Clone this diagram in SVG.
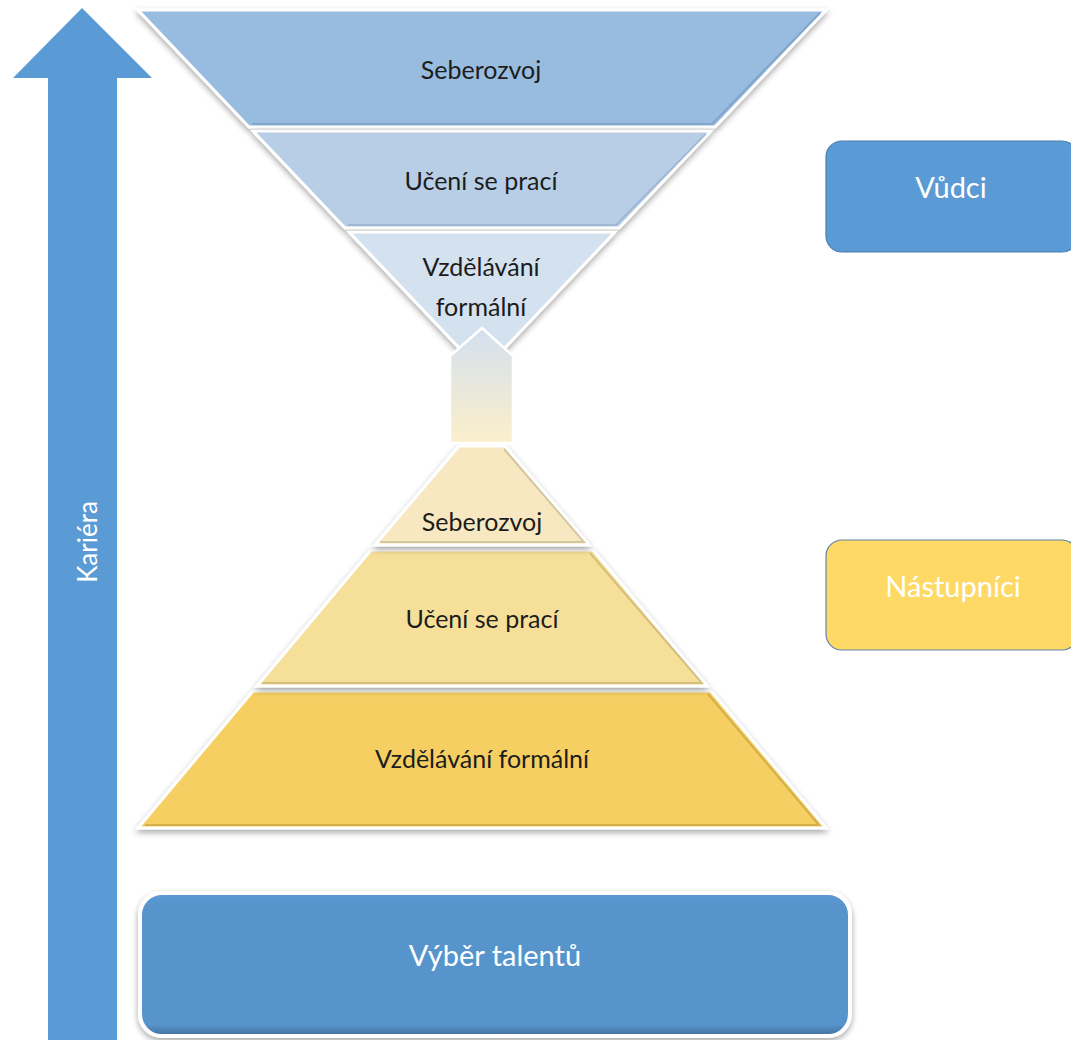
<svg xmlns="http://www.w3.org/2000/svg" width="1071" height="1040" viewBox="0 0 1071 1040">
  <defs>
    <style>
      .lbl { font-family: Lato, "Open Sans", "Liberation Sans", sans-serif; font-size: 25px; fill: #1c1c1c; text-anchor: middle; }
      .wlbl { font-family: Lato, "Open Sans", "Liberation Sans", sans-serif; font-size: 29px; fill: #ffffff; text-anchor: middle; }
      .layer { stroke: #ffffff; stroke-width: 3; stroke-linejoin: miter; filter: url(#shadow); }
      .edge { fill: none; stroke-width: 2; stroke-opacity: 0.55; }
      .side { stroke-width: 1.2; }
    </style>
    <filter id="shadow" x="-10%" y="-10%" width="120%" height="130%">
      <feGaussianBlur in="SourceAlpha" stdDeviation="3"/>
      <feOffset dx="0" dy="3" result="b"/>
      <feComponentTransfer><feFuncA type="linear" slope="0.35"/></feComponentTransfer>
      <feMerge><feMergeNode/><feMergeNode in="SourceGraphic"/></feMerge>
    </filter>
    <linearGradient id="linkGrad" x1="0" y1="0" x2="0" y2="1">
      <stop offset="0" stop-color="#d3e0ef"/>
      <stop offset="1" stop-color="#fcefcb"/>
    </linearGradient>
    <linearGradient id="bevelBlue" x1="0" y1="0" x2="0" y2="1">
      <stop offset="0" stop-color="#5d9ad6"/>
      <stop offset="0.08" stop-color="#5894cc"/>
      <stop offset="0.92" stop-color="#5894cc"/>
      <stop offset="1" stop-color="#3f6f9c"/>
    </linearGradient>
  </defs>

  <!-- Career arrow on the left -->
  <g id="kariera">
    <polygon points="82,8 152,78 117,78 117,1040 48,1040 48,78 13,78" fill="#5b9bd5"/>
    <text class="wlbl" transform="translate(97,542) rotate(-90)" style="font-size:26px">Kariéra</text>
  </g>

  <!-- Inverted pyramid (leaders) -->
  <g id="top-seberozvoj">
    <polygon class="layer" points="138,10 826,10 715,127 249,127" fill="#98bce0"/>
    <polyline class="edge" stroke="#6f93b8" points="252,124 712,124 820,13"/>
    <text class="lbl" x="481" y="79">Seberozvoj</text>
  </g>
  <g id="top-uceni">
    <polygon class="layer" points="253,131 711,131 619,228 345,228" fill="#b8cee7"/>
    <polyline class="edge" stroke="#8ea6c2" points="348,225 616,225 706,134"/>
    <text class="lbl" x="481" y="190">Učení se prací</text>
  </g>
  <g id="top-vzdelavani">
    <polygon class="layer" points="349,232 615,232 482,372" fill="#d4e1ef"/>
    <text class="lbl" x="481" y="276">Vzdělávání</text>
    <text class="lbl" x="481" y="316">formální</text>
  </g>

  <!-- Upright pyramid (successors) -->
  <g id="bottom-vzdelavani">
    <polygon class="layer" points="253,691 711,691 826,828 138,828" fill="#f5cf62"/>
    <polyline class="edge" stroke="#b8963a" points="145,825 819,825 708,694"/>
    <text class="lbl" x="482" y="768">Vzdělávání formální</text>
  </g>
  <g id="bottom-uceni">
    <polygon class="layer" points="371,550 593,550 707,686 257,686" fill="#f6df98"/>
    <polyline class="edge" stroke="#b9a46a" points="262,683 702,683 590,553"/>
    <text class="lbl" x="482" y="628">Učení se prací</text>
  </g>
  <g id="bottom-seberozvoj">
    <polygon class="layer" points="459,446 505,446 589,545 375,545" fill="#f7e8c2"/>
    <polyline class="edge" stroke="#b8a982" points="380,542 584,542 504,449"/>
    <text class="lbl" x="482" y="531">Seberozvoj</text>
  </g>

  <!-- Link between the two pyramids -->
  <g id="connectors">
    <polygon points="450,443 450,356 482,328 513,356 513,443" fill="url(#linkGrad)" stroke="#ffffff" stroke-width="2.5"/>
  </g>

  <!-- Side labels -->
  <g id="vudci">
    <rect class="side" x="826" y="141" width="252" height="111" rx="16" fill="#5b9bd5" stroke="#4a7fb0"/>
    <text class="wlbl" x="951" y="198">Vůdci</text>
  </g>
  <g id="nastupnici">
    <rect class="side" x="826" y="540" width="252" height="110" rx="16" fill="#ffd966" stroke="#5f84a8"/>
    <text class="wlbl" x="953" y="597">Nástupníci</text>
  </g>

  <!-- Talent selection base -->
  <g id="vyber-talentu">
    <rect x="140" y="893" width="710" height="143" rx="22" fill="url(#bevelBlue)" stroke="#ffffff" stroke-width="4" filter="url(#shadow)"/>
    <text class="wlbl" x="495" y="966">Výběr talentů</text>
  </g>
</svg>
